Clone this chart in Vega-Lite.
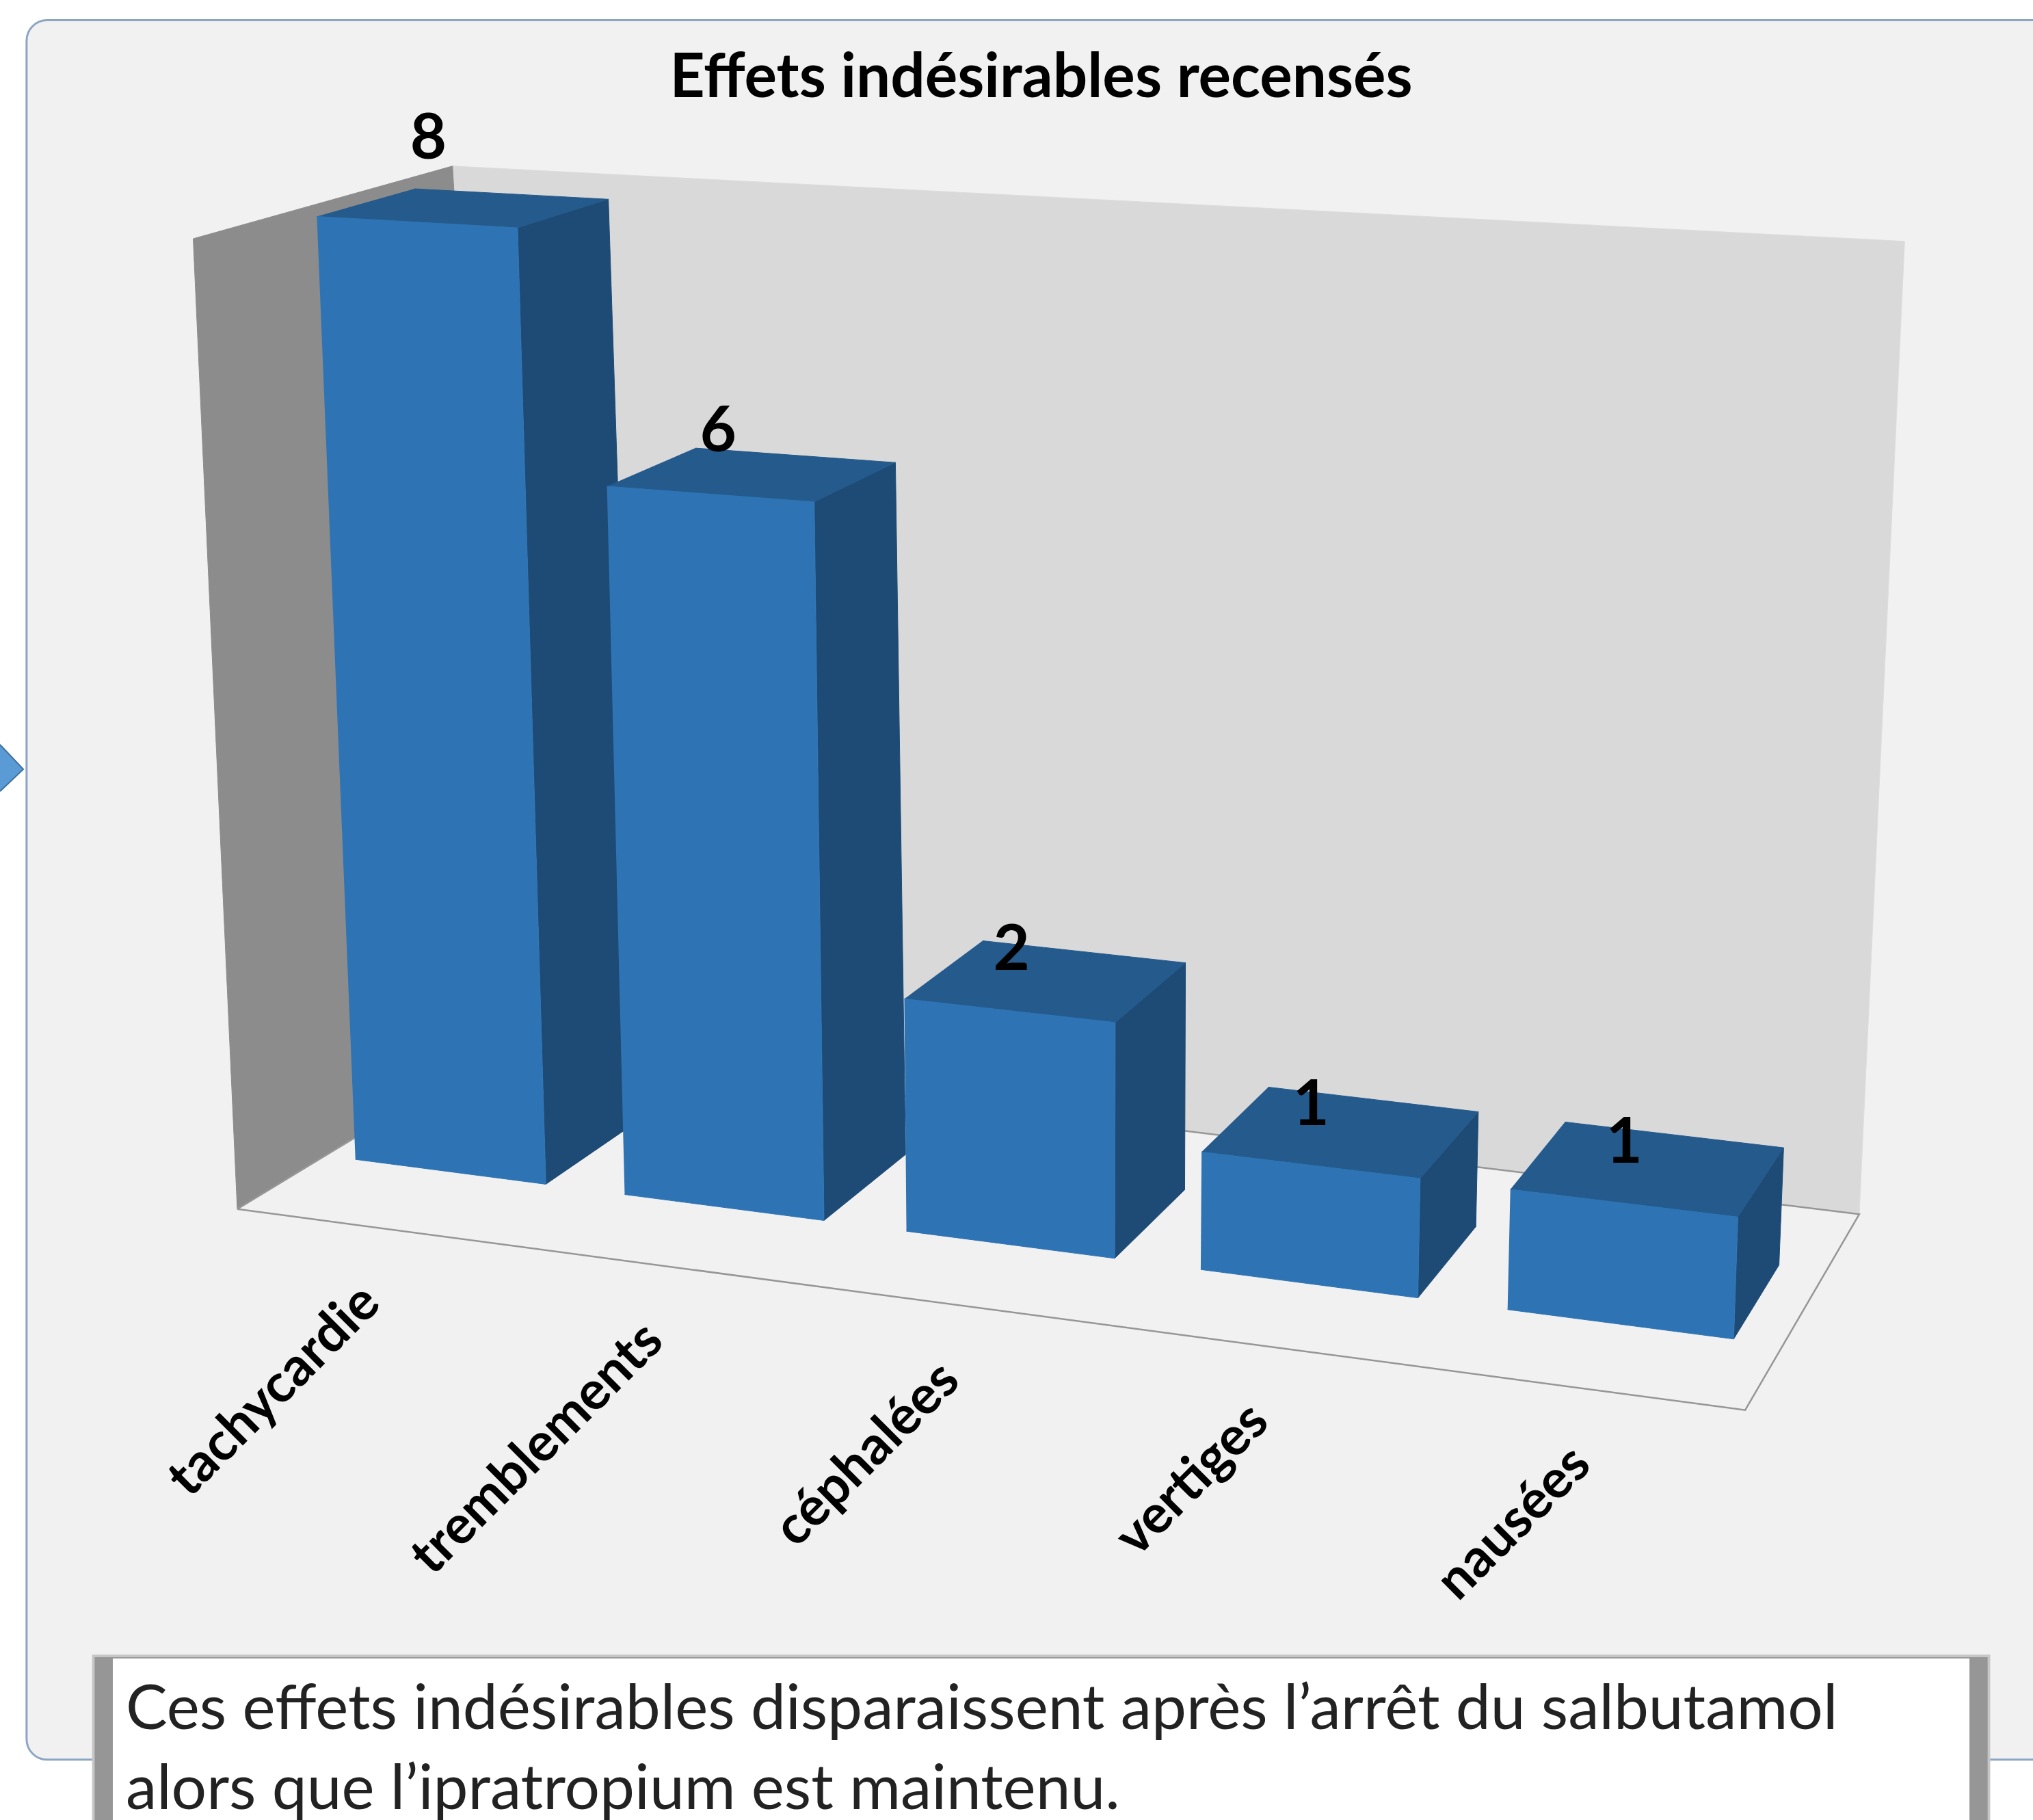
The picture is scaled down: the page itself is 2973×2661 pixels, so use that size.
{
"$schema":"https://vega.github.io/schema/vega-lite/v6.json",
"width":2973,"height":2661,"padding":0,"autosize":{"type":"none"},"background":"white",
"config":{"view":{"stroke":null}},
"datasets":{"effets":[
{"effet":"tachycardie","valeur":8},
{"effet":"tremblements","valeur":6},
{"effet":"céphalées","valeur":2},
{"effet":"vertiges","valeur":1},
{"effet":"nausées","valeur":1}]},
"layer":[
{"data":{"values":[{"piece":"carte"}]},"mark":{"type":"rect","fill":"#f1f1f1","stroke":"#8da5c4","strokeWidth":3,"cornerRadius":30},
 "encoding":{"x":{"datum":20.5,"type":"quantitative","scale":{"domain":[0,1568],"nice":false,"zero":false},"axis":null},"x2":{"datum":1600},"y":{"datum":15.5,"type":"quantitative","scale":{"domain":[1403,0],"nice":false,"zero":false},"axis":null},"y2":{"datum":1356.5}}},
{"data":{"values":[{"piece":"fleche"}]},
 "transform":[{"calculate":"[0,1,2]","as":"coin"},{"flatten":["coin"]},{"calculate":"[0,18,0][datum.coin]","as":"px"},{"calculate":"[574,593,610][datum.coin]","as":"py"}],
 "mark":{"type":"line","fill":"#5b9bd5","stroke":"#41719c","strokeWidth":2},
 "encoding":{"x":{"field":"px","type":"quantitative","scale":{"domain":[0,1568],"nice":false,"zero":false},"axis":null},"y":{"field":"py","type":"quantitative","scale":{"domain":[1403,0],"nice":false,"zero":false},"axis":null},"order":{"field":"coin"}}},
{"data":{"values":[{"piece":"gauche"},{"piece":"fond"},{"piece":"sol"}]},
 "transform":[
  {"calculate":"[0,1,2,3,4]","as":"coin"},{"flatten":["coin"]},
  {"calculate":"({gauche:[0,0,0,0,0],fond:[0,1,1,0,0],sol:[0,1,1,0,0]})[datum.piece][datum.coin]","as":"u"},
  {"calculate":"({gauche:[0,1,1,0,0],fond:[1,1,1,1,1],sol:[0,0,1,1,0]})[datum.piece][datum.coin]","as":"d"},
  {"calculate":"({gauche:[0,0,1,1,0],fond:[0,0,1,1,0],sol:[0,0,0,0,0]})[datum.piece][datum.coin]","as":"t"},
  {"calculate":"0.93*datum.t/(1-0.07*datum.t)","as":"tp"},
  {"calculate":"(183+206*datum.d+datum.u*(1163-118*datum.d))*(1-datum.tp)+(149+200*datum.d+datum.u*(1224-104*datum.d))*datum.tp","as":"px"},
  {"calculate":"(932-125*datum.d+datum.u*(155-26*datum.d))*(1-datum.tp)+(184-56*datum.d+datum.u*(71-13*datum.d))*datum.tp","as":"py"}],
 "encoding":{"x":{"field":"px","type":"quantitative","scale":{"domain":[0,1568],"nice":false,"zero":false},"axis":null},"y":{"field":"py","type":"quantitative","scale":{"domain":[1403,0],"nice":false,"zero":false},"axis":null},"order":{"field":"coin"}},
 "layer":[
  {"transform":[{"filter":"datum.piece==='fond'"}],"mark":{"type":"line","fill":"#d9d9d9","stroke":"#dddddd","strokeWidth":1}},
  {"transform":[{"filter":"datum.piece==='gauche'"}],"mark":{"type":"line","fill":"#8c8c8c","stroke":"#8c8c8c","strokeWidth":1}},
  {"transform":[{"filter":"datum.piece==='sol'"}],"mark":{"type":"line","fill":"#f1f1f1","stroke":"#969696","strokeWidth":2.5}}
 ]},
{"data":{"name":"effets"},
 "transform":[
  {"window":[{"op":"row_number","as":"n"}]},
  {"calculate":"['cote','dessus','avant']","as":"face"},{"flatten":["face"]},
  {"calculate":"[0,1,2,3]","as":"coin"},{"flatten":["coin"]},
  {"calculate":"datum.n-1+({avant:[0.144,0.856,0.856,0.144],dessus:[0.144,0.856,0.856,0.144],cote:[0.856,0.856,0.856,0.856]})[datum.face][datum.coin]","as":"s"},
  {"calculate":"({avant:[0.33,0.33,0.33,0.33],dessus:[0.33,0.33,0.71,0.71],cote:[0.33,0.71,0.71,0.33]})[datum.face][datum.coin]","as":"d"},
  {"calculate":"({avant:[0,0,1,1],dessus:[1,1,1,1],cote:[0,0,1,1]})[datum.face][datum.coin]*datum.valeur/8","as":"t"},
  {"calculate":"-0.0053+0.1792*datum.s+0.0043*datum.s*datum.s","as":"u"},
  {"calculate":"0.93*datum.t/(1-0.07*datum.t)","as":"tp"},
  {"calculate":"(183+206*datum.d+datum.u*(1163-118*datum.d))*(1-datum.tp)+(154+200*datum.d+datum.u*(1219-104*datum.d))*datum.tp","as":"px"},
  {"calculate":"(932-125*datum.d+datum.u*(155-26*datum.d))*(1-datum.tp)+(184-56*datum.d+datum.u*(71-13*datum.d))*datum.tp","as":"py"}],
 "encoding":{"x":{"field":"px","type":"quantitative","scale":{"domain":[0,1568],"nice":false,"zero":false},"axis":null},"y":{"field":"py","type":"quantitative","scale":{"domain":[1403,0],"nice":false,"zero":false},"axis":null},"order":{"field":"coin"},"detail":{"field":"effet"}},
 "layer":[
  {"transform":[{"filter":"datum.face==='cote'"}],"mark":{"type":"line","fill":"#1e4b75","stroke":"#1e4b75","strokeWidth":1}},
  {"transform":[{"filter":"datum.face==='dessus'"}],"mark":{"type":"line","fill":"#255a8c","stroke":"#255a8c","strokeWidth":1}},
  {"transform":[{"filter":"datum.face==='avant'"}],"mark":{"type":"line","fill":"#2e74b5","stroke":"#2e74b5","strokeWidth":1}}
 ]},
{"data":{"name":"effets"},
 "transform":[
  {"window":[{"op":"row_number","as":"n"}]},
  {"calculate":"datum.n-0.5","as":"s"},
  {"calculate":"-0.0053+0.1792*datum.s+0.0043*datum.s*datum.s","as":"u"},
  {"calculate":"183+datum.u*1163","as":"bx"},
  {"calculate":"932+datum.u*155","as":"by"},
  {"calculate":"(datum.valeur===8?1.02:1)*datum.valeur/8","as":"t"},
  {"calculate":"0.33+0.05*datum.t","as":"d"},
  {"calculate":"0.93*datum.t/(1-0.07*datum.t)","as":"tp"},
  {"calculate":"(183+206*datum.d+datum.u*(1163-118*datum.d))*(1-datum.tp)+(154+200*datum.d+datum.u*(1219-104*datum.d))*datum.tp","as":"px"},
  {"calculate":"(932-125*datum.d+datum.u*(155-26*datum.d))*(1-datum.tp)+(184-56*datum.d+datum.u*(71-13*datum.d))*datum.tp","as":"py"}],
 "layer":[
  {"mark":{"type":"text","font":"Lato","fontWeight":"bold","fontSize":92,"color":"#000000","baseline":"middle","align":"center","yOffset":-85},
   "encoding":{"x":{"field":"px","type":"quantitative","scale":{"domain":[0,1568],"nice":false,"zero":false},"axis":null},"y":{"field":"py","type":"quantitative","scale":{"domain":[1403,0],"nice":false,"zero":false},"axis":null},"text":{"field":"valeur","type":"quantitative"}}},
  {"mark":{"type":"text","font":"Lato","fontWeight":"bold","fontSize":78,"color":"#000000","baseline":"middle","align":"right","angle":315,"xOffset":8,"yOffset":100},
   "encoding":{"x":{"field":"bx","type":"quantitative","scale":{"domain":[0,1568],"nice":false,"zero":false},"axis":null},"y":{"field":"by","type":"quantitative","scale":{"domain":[1403,0],"nice":false,"zero":false},"axis":null},"text":{"field":"effet","type":"nominal"}}}
 ]},
{"data":{"values":[{"texte":"Effets indésirables recensés"}]},"mark":{"type":"text","font":"Lato","fontWeight":"bold","fontSize":89,"color":"#000000","align":"center","baseline":"alphabetic"},
 "encoding":{"x":{"datum":803,"type":"quantitative","scale":{"domain":[0,1568],"nice":false,"zero":false},"axis":null},"y":{"datum":75,"type":"quantitative","scale":{"domain":[1403,0],"nice":false,"zero":false},"axis":null},"text":{"field":"texte","type":"nominal"}}},
{"data":{"values":[{"piece":"halo"}]},"mark":{"type":"rect","fill":"#c6c6c6"},
 "encoding":{"x":{"datum":71,"type":"quantitative","scale":{"domain":[0,1568],"nice":false,"zero":false},"axis":null},"x2":{"datum":1535},"y":{"datum":1275.5,"type":"quantitative","scale":{"domain":[1403,0],"nice":false,"zero":false},"axis":null},"y2":{"datum":1403}}},
{"data":{"values":[{"piece":"ombre"}]},"mark":{"type":"rect","fill":"#969696"},
 "encoding":{"x":{"datum":73,"type":"quantitative","scale":{"domain":[0,1568],"nice":false,"zero":false},"axis":null},"x2":{"datum":1533},"y":{"datum":1277.5,"type":"quantitative","scale":{"domain":[1403,0],"nice":false,"zero":false},"axis":null},"y2":{"datum":1403}}},
{"data":{"values":[{"piece":"legende"}]},"mark":{"type":"rect","fill":"#ffffff"},
 "encoding":{"x":{"datum":87,"type":"quantitative","scale":{"domain":[0,1568],"nice":false,"zero":false},"axis":null},"x2":{"datum":1519},"y":{"datum":1278.5,"type":"quantitative","scale":{"domain":[1403,0],"nice":false,"zero":false},"axis":null},"y2":{"datum":1403}}},
{"data":{"values":[{"texte":"Ces effets indésirables disparaissent après l’arrêt du salbutamol","base":1333},{"texte":"alors que l’ipratropium est maintenu.","base":1394.6}]},"mark":{"type":"text","font":"Lato","fontSize":91,"color":"#222222","align":"left","baseline":"alphabetic"},
 "encoding":{"x":{"datum":97,"type":"quantitative","scale":{"domain":[0,1568],"nice":false,"zero":false},"axis":null},"y":{"field":"base","type":"quantitative","scale":{"domain":[1403,0],"nice":false,"zero":false},"axis":null},"text":{"field":"texte","type":"nominal"}}}
]}
